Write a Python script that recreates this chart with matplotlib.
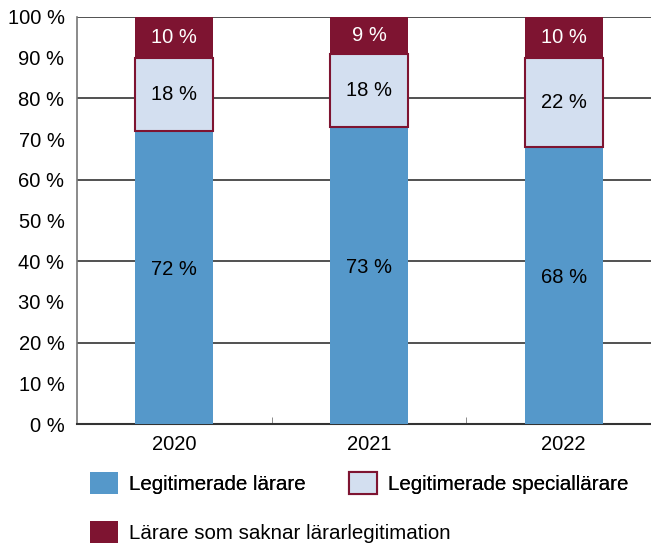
import matplotlib.pyplot as plt
import numpy as np

years = ["2020", "2021", "2022"]
legit = [72, 73, 68]
special = [18, 18, 22]
saknar = [10, 9, 10]

labels = ["Legitimerade lärare", "Legitimerade speciallärare",
          "Lärare som saknar lärarlegitimation"]
c_blue = "#5598CA"
c_light = "#D3DFF0"
c_red = "#7E1431"

plt.rcParams['font.family'] = ['Liberation Sans', 'DejaVu Sans']
plt.rcParams['font.size'] = 14.5

fig = plt.figure(figsize=(6.51, 5.47), dpi=100)
ax = fig.add_axes([77 / 651, 123 / 547, (661 - 77) / 651, 407 / 547])

x = np.arange(len(years))
w = 0.4
legit = np.array(legit)
special = np.array(special)
saknar = np.array(saknar)

b1 = ax.bar(x, legit, w, color=c_blue, zorder=3)
b2 = ax.bar(x, special, w, bottom=legit, color=c_light, edgecolor=c_red,
            linewidth=1.5, zorder=3)
b3 = ax.bar(x, saknar, w, bottom=legit + special, color=c_red, zorder=3)

for i in range(len(years)):
    ax.text(x[i], legit[i] / 2 + 2, f"{legit[i]} %", ha='center', va='center',
            color='black', zorder=4)
    ax.text(x[i], legit[i] + special[i] / 2, f"{special[i]} %", ha='center',
            va='center', color='black', zorder=4)
    ax.text(x[i], legit[i] + special[i] + saknar[i] / 2, f"{saknar[i]} %",
            ha='center', va='center', color='white', zorder=4)

ax.set_xlim(-0.5, 2.5)
ax.set_ylim(0, 100)
ax.set_yticks(range(0, 101, 10))
ax.set_yticklabels([f"{v} %" for v in range(0, 101, 10)])
ax.tick_params(axis='y', length=0, pad=9)
ax.set_xticks(x)
ax.set_xticklabels(years)
ax.tick_params(axis='x', length=0, pad=8)
ax.set_xticks([0.5, 1.5], minor=True)
ax.tick_params(axis='x', which='minor', direction='in', length=5, color='#777777')

for v in range(20, 101, 20):
    ax.axhline(v, color='#333333', linewidth=1.2, zorder=1)

for s in ['top', 'right']:
    ax.spines[s].set_visible(False)
ax.spines['left'].set_color('#777777')
ax.spines['left'].set_linewidth(1.2)
ax.spines['bottom'].set_color('#333333')
ax.spines['bottom'].set_linewidth(1.5)

leg_kw = dict(loc='upper left', frameon=False, borderpad=0, borderaxespad=0,
              handlelength=1.35, handleheight=1.25, handletextpad=0.55,
              fontsize=14.8)
leg1 = fig.legend([b1, b2], [labels[0], labels[1]], ncol=2,
                  bbox_to_anchor=(90 / 651, 1 - 472 / 547),
                  columnspacing=2.1, **leg_kw)
fig.add_artist(leg1)
fig.legend([b3], [labels[2]], bbox_to_anchor=(90 / 651, 1 - 521 / 547),
           **leg_kw)

fig.savefig("out.png", dpi=100)
